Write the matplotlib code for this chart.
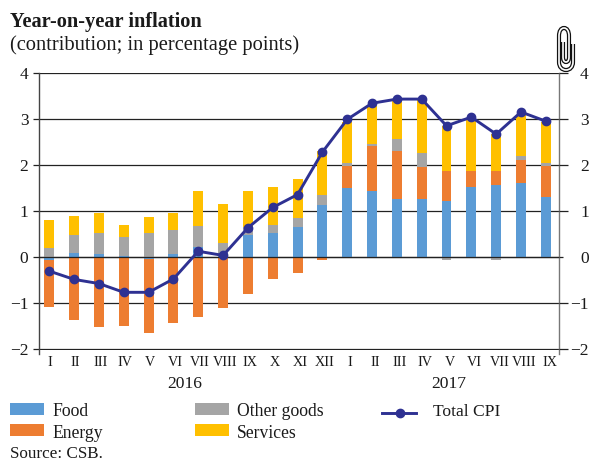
import matplotlib
matplotlib.use('Agg')
import matplotlib.pyplot as plt
from matplotlib.lines import Line2D
from matplotlib.patches import Rectangle, PathPatch
from matplotlib.path import Path
from matplotlib.transforms import ScaledTranslation
import numpy as np

plt.rcParams['font.family'] = ['Liberation Serif', 'DejaVu Serif']

months = ['I', 'II', 'III', 'IV', 'V', 'VI', 'VII', 'VIII', 'IX', 'X', 'XI', 'XII',
          'I', 'II', 'III', 'IV', 'V', 'VI', 'VII', 'VIII', 'IX']

# contributions, percentage points
food = [-0.05, 0.10, 0.06, 0.03, -0.03, 0.06, 0.23, 0.02, 0.48, 0.52, 0.65, 1.14,
        1.51, 1.44, 1.27, 1.26, 1.21, 1.53, 1.56, 1.60, 1.31]
energy = [-1.03, -1.36, -1.52, -1.49, -1.61, -1.42, -1.30, -1.10, -0.79, -0.47, -0.34, -0.05,
          0.47, 0.98, 1.03, 0.69, 0.65, 0.33, 0.32, 0.51, 0.67]
other = [0.20, 0.38, 0.46, 0.42, 0.52, 0.54, 0.44, 0.28, 0.17, 0.18, 0.21, 0.20,
         0.07, 0.04, 0.26, 0.32, -0.05, 0.01, -0.05, 0.09, 0.07]
services = [0.60, 0.42, 0.44, 0.25, 0.35, 0.36, 0.77, 0.85, 0.79, 0.83, 0.83, 0.96,
            0.89, 0.84, 0.88, 1.16, 0.99, 1.14, 0.80, 0.88, 0.89]
total_cpi = [-0.30, -0.48, -0.57, -0.76, -0.76, -0.47, 0.13, 0.04, 0.64, 1.08, 1.36, 2.28,
             2.99, 3.34, 3.43, 3.43, 2.85, 3.04, 2.67, 3.15, 2.95]
y_ticks = [-2, -1, 0, 1, 2, 3, 4]
y_labels = ['\u22122', '\u22121', '0', '1', '2', '3', '4']

c_food = '#5b9bd5'
c_energy = '#ed7d31'
c_other = '#a5a5a5'
c_services = '#ffc000'
c_line = '#2e3192'
c_text = '#1a1a1a'
c_grid = '#222222'

fig = plt.figure(figsize=(5.9, 4.62), dpi=100)
ax = fig.add_axes([38.5 / 590, 1 - 349.5 / 462, 520 / 590, (349.5 - 72.8) / 462])

x = np.arange(len(months))
pos = np.zeros(len(months))
neg = np.zeros(len(months))
for vals, col in [(food, c_food), (energy, c_energy), (other, c_other), (services, c_services)]:
    vals = np.array(vals)
    bottoms = np.where(vals >= 0, pos, neg)
    ax.bar(x, vals, 0.4, bottom=bottoms, color=col, zorder=2)
    pos = pos + np.clip(vals, 0, None)
    neg = neg + np.clip(vals, None, 0)

ax.plot(x, total_cpi, color=c_line, lw=2.1, marker='o', ms=6, zorder=4)

ax.set_xlim(-0.435, 20.51)
ax.set_ylim(-2, 4)
ax.set_yticks(y_ticks)
ax.set_yticklabels(y_labels)
ax.yaxis.grid(True, color=c_grid, lw=0.9, zorder=1)
ax.set_axisbelow(True)
ax.axhline(0, color=c_grid, lw=0.9, zorder=3)
ax.tick_params(axis='y', length=4.3, width=0.9, color=c_grid, labelsize=12.5, pad=3,
               labelcolor=c_text, left=True, right=False)
ax.set_xticks(x)
ax.set_xticklabels(months)
ax.tick_params(axis='x', length=0, labelsize=10.2, pad=5, labelcolor=c_text)
# month labels drift a little to the right of the bars
for i, lab in enumerate(ax.get_xticklabels()):
    lab.set_transform(lab.get_transform() + ScaledTranslation((1 + i * 0.13) / 100, 0, fig.dpi_scale_trans))

for s in ['top', 'bottom']:
    ax.spines[s].set_visible(False)
ax.spines['left'].set_color('#444444')
ax.spines['right'].set_color('#777777')
ax.spines['left'].set_bounds(-2.1, 4)
ax.spines['right'].set_bounds(-2.1, 4)
ax.spines['left'].set_linewidth(1.0)
ax.spines['right'].set_linewidth(1.0)

ax2 = ax.twinx()
ax2.set_ylim(-2, 4)
ax2.set_yticks(y_ticks)
ax2.set_yticklabels(y_labels, ha='right')
ax2.tick_params(axis='y', length=6.5, width=0.9, color=c_grid, labelsize=12.5, pad=15.3, labelcolor=c_text)
ax2.yaxis.get_major_ticks()[2].tick2line.set_markersize(3.2)
for s in ax2.spines.values():
    s.set_visible(False)


def px(xp, yp):
    return xp / 590, 1 - yp / 462


def ftext(xp, yp, s, **kw):
    fx, fy = px(xp, yp)
    fig.text(fx, fy, s, color=c_text, va='center', ha=kw.pop('ha', 'left'), **kw)


ftext(10, 22, 'Year-on-year inflation', fontsize=14.7, fontweight='bold')
ftext(10, 45, '(contribution; in percentage points)', fontsize=14.8)
ftext(185, 384, '2016', fontsize=12.6, ha='center')
ftext(449, 384, '2017', fontsize=12.6, ha='center')

for yp, label, col, xp in [(409, 'Food', c_food, 10), (430, 'Energy', c_energy, 10),
                           (409, 'Other goods', c_other, 195), (430, 'Services', c_services, 195)]:
    fig.add_artist(Rectangle(px(xp, yp + 6), 34 / 590, 12.5 / 462, transform=fig.transFigure,
                             color=col, lw=0))
    ftext(xp + 42, yp + 3, label, fontsize=12.7)

lx, ly = px(382, 412.5)
lx2, _ = px(416, 412.5)
mx, _ = px(400, 412.5)
fig.add_artist(Line2D([lx, lx2], [ly, ly], color=c_line, lw=2.1, transform=fig.transFigure))
fig.add_artist(Line2D([mx], [ly], color=c_line, marker='o', ms=6, transform=fig.transFigure))
ftext(433, 412, 'Total CPI', fontsize=12.6)
ftext(10, 454.5, 'Source: CSB.', fontsize=12.3)

# paper clip, pixel coordinates
clip_pts = [(573, 44), (573, 62), (573, 67), (570, 70), (566, 70),
            (562, 70), (559, 67), (559, 62), (559, 36), (559, 31), (561, 28), (564, 28),
            (567, 28), (569, 31), (569, 36), (569, 57), (569, 60), (568, 62), (566, 62),
            (564, 62), (563, 60), (563, 57), (563, 42)]
clip_codes = [Path.MOVETO, Path.LINETO, Path.CURVE4, Path.CURVE4, Path.CURVE4,
              Path.CURVE4, Path.CURVE4, Path.CURVE4, Path.LINETO, Path.CURVE4, Path.CURVE4, Path.CURVE4,
              Path.CURVE4, Path.CURVE4, Path.CURVE4, Path.LINETO, Path.CURVE4, Path.CURVE4, Path.CURVE4,
              Path.CURVE4, Path.CURVE4, Path.CURVE4, Path.LINETO]
clip_path = Path([px(a, b) for a, b in clip_pts], clip_codes)
fig.add_artist(PathPatch(clip_path, fc='none', ec='#111111', lw=3.0, transform=fig.transFigure, zorder=5))
fig.add_artist(PathPatch(clip_path, fc='none', ec='white', lw=1.2, transform=fig.transFigure, zorder=6))

fig.savefig('out.png', dpi=100)
